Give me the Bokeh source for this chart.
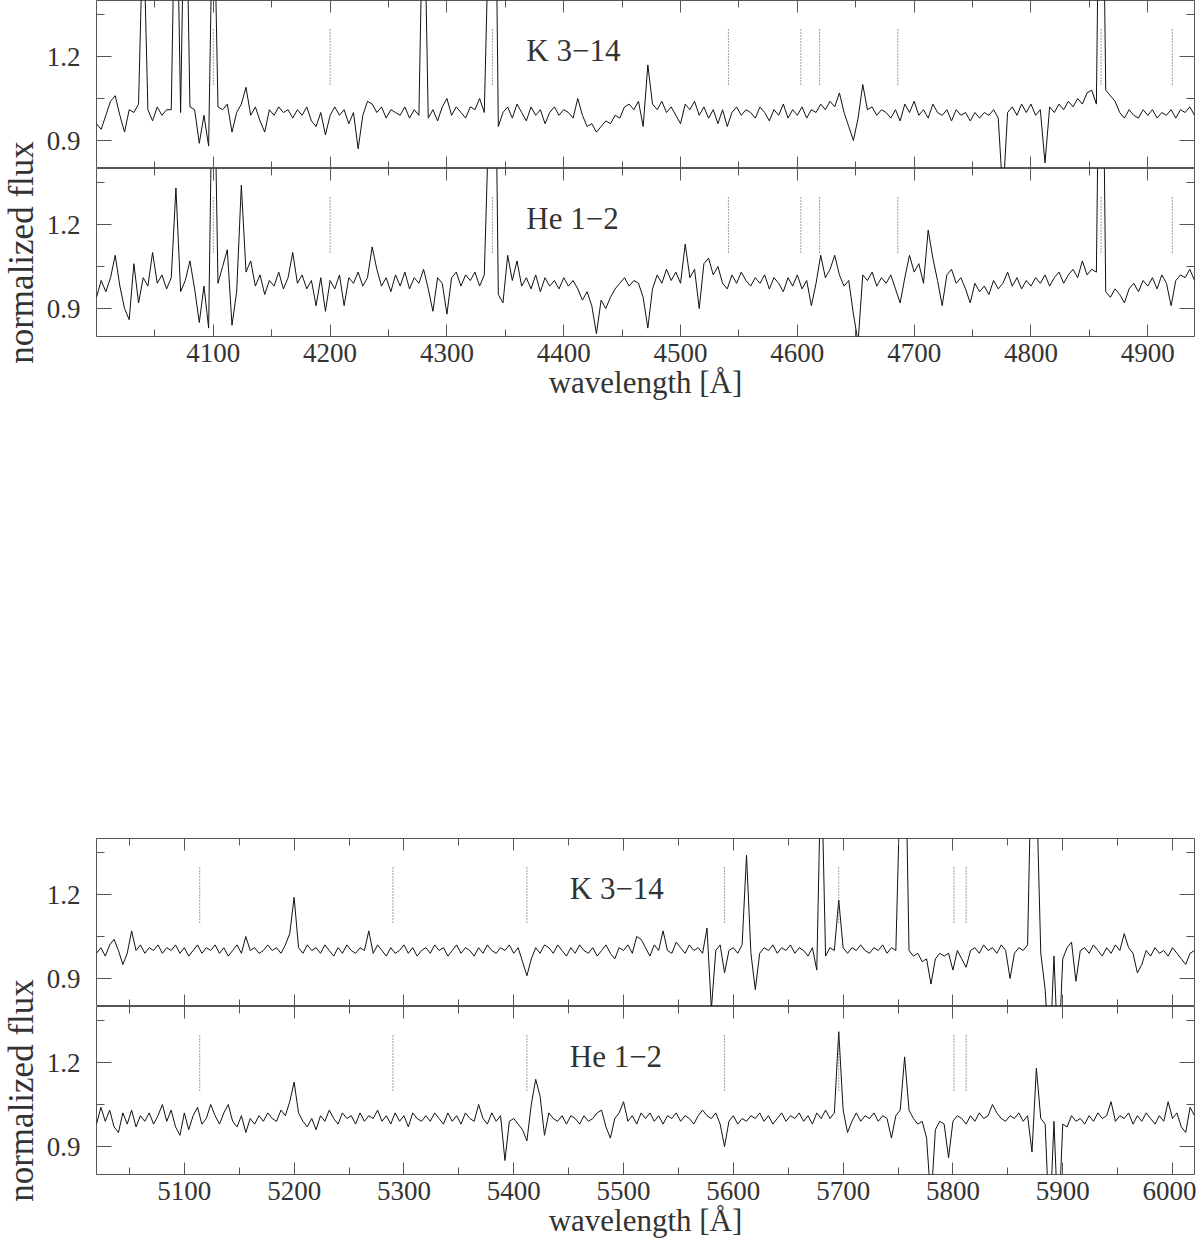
import numpy as np
from math import pi
from bokeh.plotting import figure
from bokeh.models import Range1d, LinearAxis, FixedTicker, Label, ColumnDataSource, Spacer
from bokeh.layouts import column, row
from bokeh.embed import file_html
from bokeh.resources import INLINE

# ---------------- data (normalized flux in percent, 4 A sampling) ----------------
wl_start_top = 4000
wl_start_bot = 5020
wl_step = 4

k314_blue = [
    96, 94, 99, 104, 106, 99, 93, 101, 100, 103, 170, 101, 97, 102, 99, 101, 101, 200, 100, 200, 102, 101, 89, 99, 88,
    190, 102, 101, 103, 93, 100, 103, 109, 99, 102, 97, 93, 101, 99, 102, 100, 101, 98, 101, 99, 102, 97, 95, 100, 92,
    99, 102, 99, 101, 96, 100, 87, 99, 104, 103, 100, 102, 98, 101, 100, 99, 102, 98, 101, 99, 190, 98, 101, 97, 102,
    105, 99, 102, 100, 98, 102, 101, 105, 100, 170, 250, 95, 100, 102, 98, 103, 100, 97, 102, 99, 101, 96, 100, 102, 99,
    101, 100, 98, 105, 99, 95, 96, 93, 95, 97, 96, 99, 98, 102, 103, 101, 104, 95, 117, 103, 101, 104, 100, 102, 99,
    96, 103, 101, 104, 99, 102, 98, 101, 96, 101, 95, 100, 102, 99, 101, 100, 98, 102, 100, 97, 101, 99, 103, 98, 101,
    99, 102, 98, 101, 100, 103, 101, 104, 102, 107, 100, 95, 90, 98, 110, 101, 102, 99, 101, 100, 98, 101, 97, 103, 100,
    104, 99, 101, 98, 103, 100, 99, 101, 97, 101, 99, 100, 97, 100, 98, 100, 99, 101, 98, 70, 100, 102, 99, 103, 100,
    103, 99, 101, 82, 102, 100, 103, 101, 104, 102, 105, 103, 107, 108, 103, 250, 108, 106, 104, 100, 98, 101, 99, 98, 101,
    99, 101, 98, 100, 99, 101, 98, 101, 100, 102, 99,
]

he12_blue = [
    94, 100, 96, 101, 109, 98, 90, 86, 106, 92, 101, 98, 110, 99, 102, 97, 101, 133, 96, 100, 107, 97, 85, 98, 83,
    200, 99, 105, 111, 84, 96, 134, 103, 107, 98, 102, 95, 100, 98, 103, 97, 101, 110, 99, 102, 97, 100, 91, 101, 89,
    100, 97, 102, 91, 101, 99, 103, 98, 101, 112, 104, 98, 101, 96, 102, 98, 103, 97, 101, 99, 104, 97, 89, 101, 99,
    88, 101, 103, 98, 102, 100, 103, 98, 102, 160, 240, 95, 92, 109, 100, 107, 98, 101, 97, 102, 96, 101, 98, 100, 97,
    101, 98, 100, 97, 93, 96, 91, 81, 93, 90, 94, 97, 99, 101, 98, 100, 99, 94, 83, 97, 102, 99, 104, 100, 103,
    99, 113, 101, 104, 90, 106, 108, 102, 105, 99, 97, 102, 99, 103, 100, 98, 101, 99, 102, 97, 101, 99, 96, 101, 98,
    102, 97, 100, 91, 99, 109, 101, 104, 109, 102, 98, 100, 88, 78, 102, 100, 103, 98, 101, 99, 102, 97, 92, 101, 109,
    103, 106, 99, 118, 108, 100, 91, 102, 104, 99, 101, 97, 92, 99, 96, 98, 95, 100, 97, 99, 103, 98, 101, 97, 100,
    98, 101, 99, 102, 98, 101, 103, 99, 102, 104, 101, 107, 102, 104, 103, 250, 96, 94, 97, 95, 92, 97, 99, 96, 100,
    98, 101, 97, 102, 99, 91, 100, 102, 101, 104, 100,
]

k314_red = [
    99, 101, 98, 102, 104, 100, 95, 99, 107, 100, 102, 99, 101, 100, 102, 99, 101, 100, 102, 99, 101, 98, 100, 102, 99,
    101, 100, 102, 99, 101, 98, 100, 102, 99, 105, 100, 101, 99, 100, 102, 100, 101, 99, 102, 106, 119, 101, 99, 102, 100,
    101, 99, 102, 100, 98, 101, 99, 102, 100, 99, 101, 100, 107, 99, 102, 100, 98, 101, 99, 100, 102, 99, 101, 98, 100,
    101, 99, 102, 100, 101, 98, 100, 102, 99, 101, 100, 98, 101, 99, 102, 100, 99, 101, 100, 102, 99, 101, 96, 91, 97,
    101, 99, 102, 101, 99, 102, 100, 98, 101, 99, 102, 100, 99, 101, 98, 100, 102, 99, 97, 101, 100, 102, 99, 105, 104,
    101, 98, 102, 100, 107, 100, 99, 103, 101, 99, 102, 100, 101, 99, 108, 79, 100, 102, 92, 100, 101, 99, 102, 134, 99,
    86, 99, 101, 100, 102, 99, 101, 100, 102, 99, 101, 100, 98, 101, 93, 170, 98, 101, 100, 118, 101, 99, 101, 100, 102,
    100, 99, 101, 100, 102, 99, 101, 100, 160, 190, 100, 98, 99, 96, 97, 88, 97, 99, 98, 99, 93, 100, 97, 94, 100,
    101, 99, 102, 100, 101, 99, 102, 100, 90, 99, 101, 100, 102, 180, 160, 99, 86, 60, 98, 60, 97, 101, 103, 89, 100,
    101, 99, 102, 100, 98, 101, 99, 102, 100, 106, 101, 99, 92, 95, 100, 98, 101, 99, 100, 98, 101, 99, 97, 95, 99,
    100,
]

he12_red = [
    98, 104, 99, 103, 97, 95, 102, 98, 103, 97, 101, 99, 102, 98, 101, 105, 99, 103, 97, 94, 102, 96, 101, 104, 98,
    100, 105, 101, 98, 102, 105, 99, 97, 101, 95, 100, 98, 101, 99, 102, 100, 99, 103, 101, 106, 113, 102, 99, 97, 100,
    96, 101, 99, 103, 100, 98, 102, 100, 101, 98, 102, 99, 101, 100, 103, 99, 101, 98, 102, 99, 101, 97, 102, 100, 99,
    101, 99, 102, 100, 98, 102, 99, 101, 98, 102, 100, 99, 105, 100, 98, 102, 99, 101, 85, 99, 100, 98, 96, 92, 105,
    114, 108, 94, 102, 100, 99, 101, 98, 101, 100, 98, 101, 99, 100, 102, 103, 97, 93, 100, 102, 106, 99, 101, 98, 102,
    100, 102, 99, 101, 98, 101, 100, 102, 99, 101, 100, 98, 101, 103, 101, 100, 102, 98, 90, 99, 101, 98, 100, 99, 101,
    100, 102, 99, 101, 98, 100, 102, 99, 101, 100, 102, 99, 101, 98, 102, 100, 103, 100, 102, 131, 103, 95, 99, 102, 99,
    101, 100, 102, 99, 101, 100, 93, 101, 103, 122, 103, 100, 98, 99, 93, 70, 96, 99, 98, 86, 99, 101, 100, 98, 101,
    99, 102, 100, 101, 105, 102, 100, 99, 101, 100, 102, 99, 101, 88, 118, 100, 98, 60, 99, 60, 98, 97, 101, 99, 100,
    98, 101, 99, 102, 100, 101, 106, 99, 101, 100, 102, 98, 101, 99, 102, 100, 98, 101, 99, 106, 100, 102, 97, 95, 104,
    101,
]

# line identifications (dotted markers)
marks_blue = [4100, 4200, 4339, 4541, 4603, 4619, 4686, 4860, 4921]
marks_red = [5114, 5290, 5412, 5592, 5696, 5801, 5812]

x_ticks_blue = [4100, 4200, 4300, 4400, 4500, 4600, 4700, 4800, 4900]
x_minor_blue = [4050, 4150, 4250, 4350, 4450, 4550, 4650, 4750, 4850]
x_ticks_red = [5100, 5200, 5300, 5400, 5500, 5600, 5700, 5800, 5900, 6000]
x_minor_red = [5050, 5150, 5250, 5350, 5450, 5550, 5650, 5750, 5850, 5950]
y_ticks = [0.9, 1.2]
y_minor = [1.05, 1.35]

name_k = "K 3\u221214"
name_h = "He 1\u22122"

# ---------------- styling ----------------
FONT = "Liberation Serif"
INK = "#333333"
TICK = "#555555"
FRAME_W = 1098
FRAME_H = 168
LABW = 42
LEFT = 54
BOTTOM = 66


def style_axis(ax, labels, major_in, minor_in):
    ax.major_tick_in = major_in
    ax.major_tick_out = 0
    ax.minor_tick_in = minor_in
    ax.minor_tick_out = 0
    ax.axis_line_color = None
    ax.major_tick_line_color = TICK
    ax.minor_tick_line_color = TICK
    if labels:
        ax.major_label_text_font = FONT
        ax.major_label_text_font_size = "27px"
        ax.major_label_text_color = INK
    else:
        ax.major_label_text_font_size = "0px"
        ax.major_label_text_alpha = 0
        ax.major_label_standoff = 0


def panel(xr, start, flux, marks, xt, xm, name, name_x, bottom):
    p = figure(frame_width=FRAME_W, frame_height=FRAME_H, x_range=xr,
               y_range=Range1d(0.8, 1.4), x_axis_type=None, y_axis_type=None,
               output_backend="svg", toolbar_location=None,
               min_border_left=LEFT, min_border_right=2, min_border_top=0,
               min_border_bottom=(BOTTOM if bottom else 0))
    p.outline_line_color = "#555555"
    p.outline_line_width = 1
    p.background_fill_color = "white"
    p.border_fill_color = "white"

    bx = LinearAxis(ticker=FixedTicker(ticks=xt, minor_ticks=xm))
    style_axis(bx, bottom, 12, 7)
    if bottom:
        bx.major_label_standoff = 7
        bx.axis_label = "wavelength [\u00c5]"
        bx.axis_label_text_font = FONT
        bx.axis_label_text_font_size = "31px"
        bx.axis_label_text_font_style = "normal"
        bx.axis_label_text_color = INK
        bx.axis_label_standoff = 0
    p.add_layout(bx, "below")
    tx = LinearAxis(ticker=FixedTicker(ticks=xt, minor_ticks=xm))
    style_axis(tx, False, 12, 7)
    p.add_layout(tx, "above")
    ly = LinearAxis(ticker=FixedTicker(ticks=y_ticks, minor_ticks=y_minor))
    style_axis(ly, True, 15, 8)
    ly.major_label_standoff = 16
    p.add_layout(ly, "left")
    ry = LinearAxis(ticker=FixedTicker(ticks=y_ticks, minor_ticks=y_minor))
    style_axis(ry, False, 15, 8)
    p.add_layout(ry, "right")

    wl = start + wl_step * np.arange(len(flux))
    src = ColumnDataSource(dict(wl=wl, flux=np.array(flux) / 100.0))
    p.line("wl", "flux", source=src, line_color="#111111", line_width=1)

    msrc = ColumnDataSource(dict(x=marks, y0=[1.10] * len(marks), y1=[1.30] * len(marks)))
    p.segment(x0="x", y0="y0", x1="x", y1="y1", source=msrc,
              line_color="#444444", line_width=1, line_dash="1 2")

    p.add_layout(Label(x=name_x, y=1.22, text=name, text_font=FONT,
                       text_font_size="31px", text_color=INK,
                       text_baseline="alphabetic", text_align="left"))
    return p


def ylabel_fig(h):
    f = figure(width=LABW, height=h, x_range=Range1d(0, LABW), y_range=Range1d(0, h),
               x_axis_type=None, y_axis_type=None, toolbar_location=None,
               output_backend="svg", min_border=0)
    f.outline_line_color = None
    f.add_layout(Label(x=21, y=h - 252, text="normalized flux", angle=pi / 2,
                       text_align="center", text_baseline="middle",
                       text_font=FONT, text_font_size="35px", text_color=INK))
    return f


xr_blue = Range1d(4000, 4940)
xr_red = Range1d(5020, 6020)

f1 = panel(xr_blue, wl_start_top, k314_blue, marks_blue, x_ticks_blue, x_minor_blue, name_k, 4368, False)
f2 = panel(xr_blue, wl_start_top, he12_blue, marks_blue, x_ticks_blue, x_minor_blue, name_h, 4368, True)
f3 = panel(xr_red, wl_start_bot, k314_red, marks_red, x_ticks_red, x_minor_red, name_k, 5451, False)
f4 = panel(xr_red, wl_start_bot, he12_red, marks_red, x_ticks_red, x_minor_red, name_h, 5451, True)

H = FRAME_H * 2 + BOTTOM
top_group = row(ylabel_fig(H), column(f1, f2))
bot_group = row(ylabel_fig(H), column(f3, f4))
layout = column(top_group, Spacer(width=10, height=838 - H), bot_group)

open("out.html", "w").write(file_html(layout, INLINE))
